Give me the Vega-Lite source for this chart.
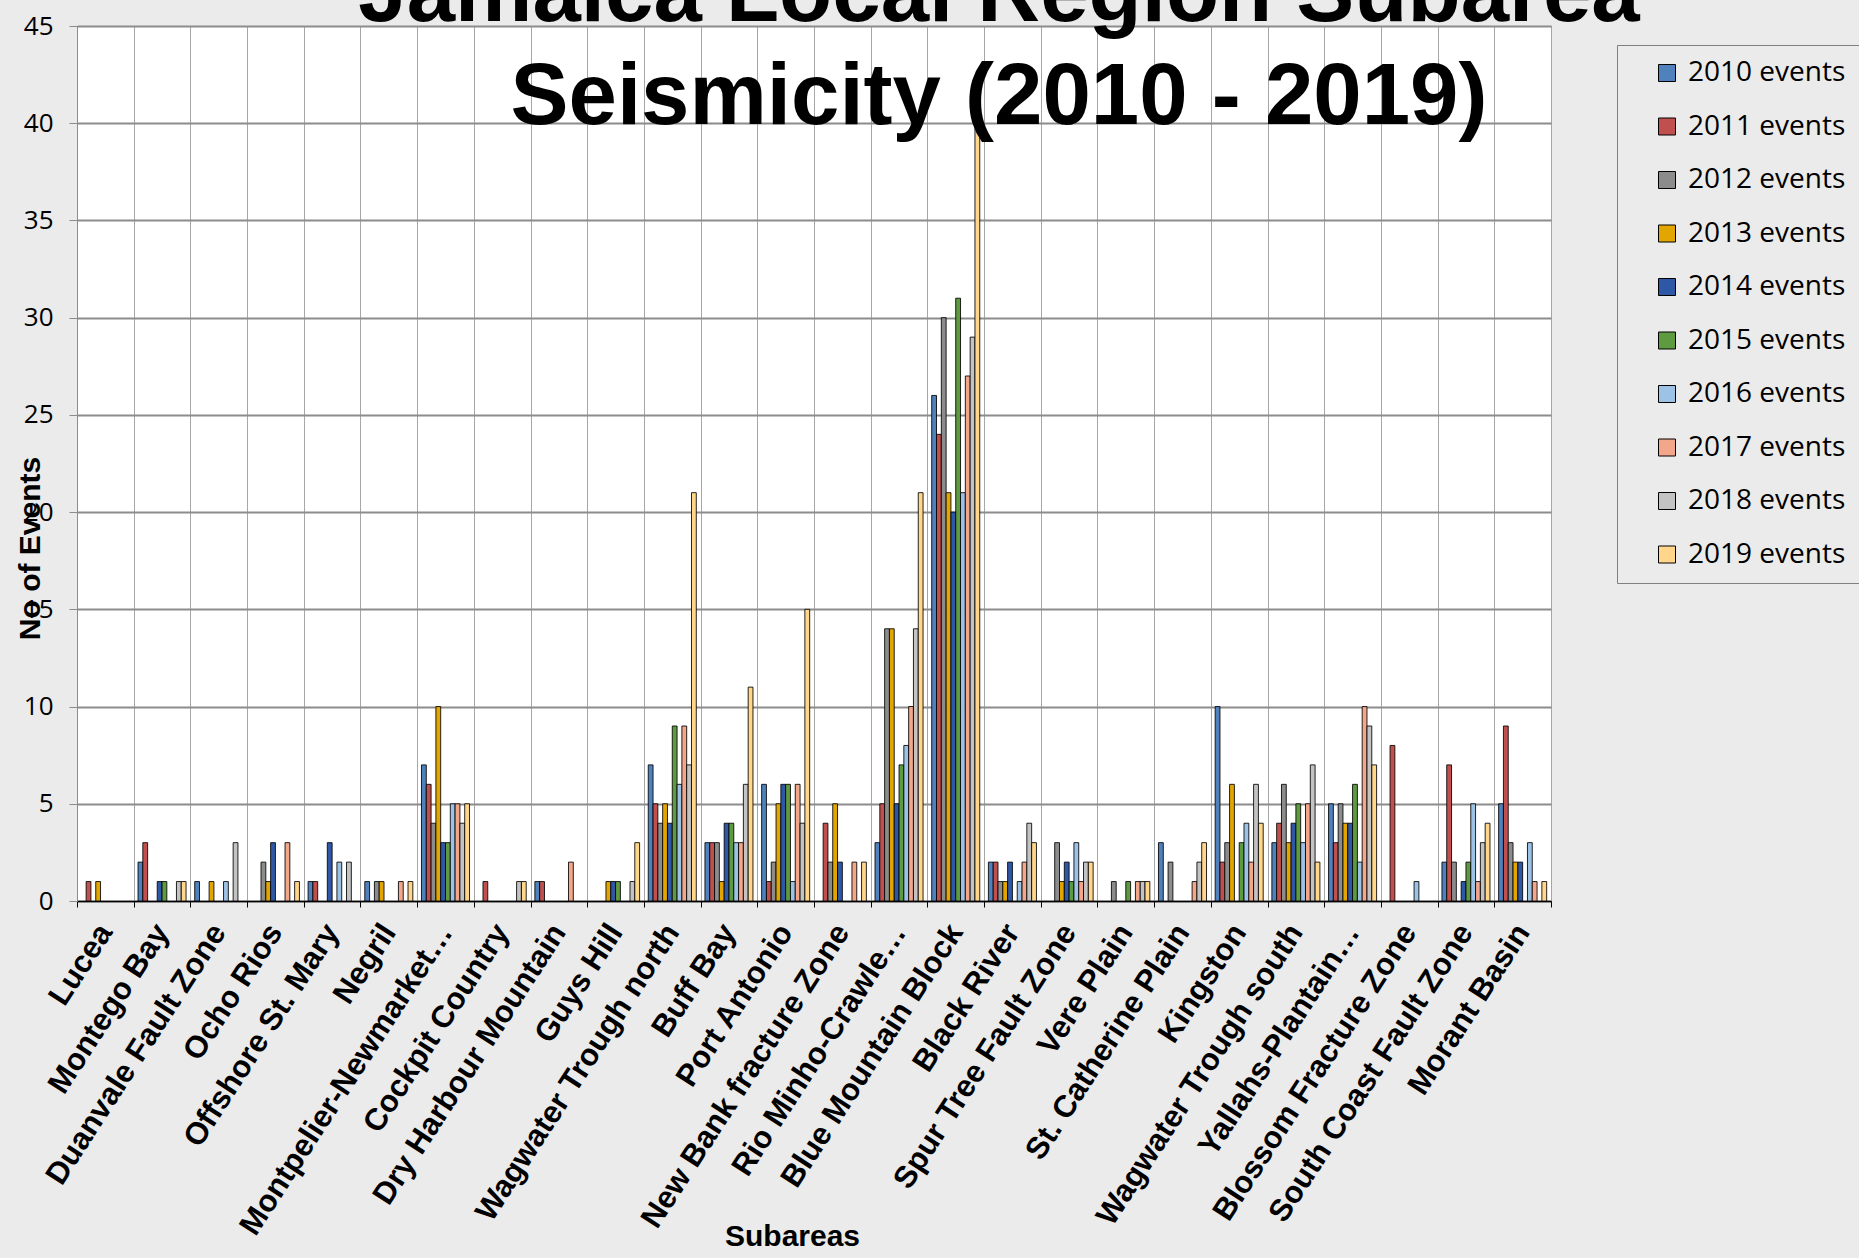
{
  "$schema": "https://vega.github.io/schema/vega-lite/v6.json",
  "autosize": "none",
  "padding": {"left": 77, "top": 26, "right": 308, "bottom": 357},
  "width": 1474,
  "height": 875,
  "background": "#ebebeb",
  "title": {
    "text": ["Jamaica Local Region Subarea", "Seismicity (2010 - 2019)"],
    "font": "Liberation Sans",
    "fontSize": 87,
    "fontWeight": "bold",
    "color": "black",
    "lineHeight": 103,
    "anchor": "middle",
    "frame": "group",
    "baseline": "alphabetic",
    "offset": 0,
    "dx": 185,
    "dy": 198
  },
  "config": {
    "view": {"fill": "white", "stroke": "#8c8c8c", "strokeWidth": 1}
  },
  "data": {
    "values": [
      {"area": "Lucea", "year": "2011 events", "n": 1},
      {"area": "Lucea", "year": "2013 events", "n": 1},
      {"area": "Montego Bay", "year": "2010 events", "n": 2},
      {"area": "Montego Bay", "year": "2011 events", "n": 3},
      {"area": "Montego Bay", "year": "2014 events", "n": 1},
      {"area": "Montego Bay", "year": "2015 events", "n": 1},
      {"area": "Montego Bay", "year": "2018 events", "n": 1},
      {"area": "Montego Bay", "year": "2019 events", "n": 1},
      {"area": "Duanvale Fault Zone", "year": "2010 events", "n": 1},
      {"area": "Duanvale Fault Zone", "year": "2013 events", "n": 1},
      {"area": "Duanvale Fault Zone", "year": "2016 events", "n": 1},
      {"area": "Duanvale Fault Zone", "year": "2018 events", "n": 3},
      {"area": "Ocho Rios", "year": "2012 events", "n": 2},
      {"area": "Ocho Rios", "year": "2013 events", "n": 1},
      {"area": "Ocho Rios", "year": "2014 events", "n": 3},
      {"area": "Ocho Rios", "year": "2017 events", "n": 3},
      {"area": "Ocho Rios", "year": "2019 events", "n": 1},
      {"area": "Offshore St. Mary", "year": "2010 events", "n": 1},
      {"area": "Offshore St. Mary", "year": "2011 events", "n": 1},
      {"area": "Offshore St. Mary", "year": "2014 events", "n": 3},
      {"area": "Offshore St. Mary", "year": "2016 events", "n": 2},
      {"area": "Offshore St. Mary", "year": "2018 events", "n": 2},
      {"area": "Negril", "year": "2010 events", "n": 1},
      {"area": "Negril", "year": "2012 events", "n": 1},
      {"area": "Negril", "year": "2013 events", "n": 1},
      {"area": "Negril", "year": "2017 events", "n": 1},
      {"area": "Negril", "year": "2019 events", "n": 1},
      {"area": "Montpelier-Newmarket…", "year": "2010 events", "n": 7},
      {"area": "Montpelier-Newmarket…", "year": "2011 events", "n": 6},
      {"area": "Montpelier-Newmarket…", "year": "2012 events", "n": 4},
      {"area": "Montpelier-Newmarket…", "year": "2013 events", "n": 10},
      {"area": "Montpelier-Newmarket…", "year": "2014 events", "n": 3},
      {"area": "Montpelier-Newmarket…", "year": "2015 events", "n": 3},
      {"area": "Montpelier-Newmarket…", "year": "2016 events", "n": 5},
      {"area": "Montpelier-Newmarket…", "year": "2017 events", "n": 5},
      {"area": "Montpelier-Newmarket…", "year": "2018 events", "n": 4},
      {"area": "Montpelier-Newmarket…", "year": "2019 events", "n": 5},
      {"area": "Cockpit Country", "year": "2011 events", "n": 1},
      {"area": "Cockpit Country", "year": "2018 events", "n": 1},
      {"area": "Cockpit Country", "year": "2019 events", "n": 1},
      {"area": "Dry Harbour Mountain", "year": "2010 events", "n": 1},
      {"area": "Dry Harbour Mountain", "year": "2011 events", "n": 1},
      {"area": "Dry Harbour Mountain", "year": "2017 events", "n": 2},
      {"area": "Guys Hill", "year": "2013 events", "n": 1},
      {"area": "Guys Hill", "year": "2014 events", "n": 1},
      {"area": "Guys Hill", "year": "2015 events", "n": 1},
      {"area": "Guys Hill", "year": "2018 events", "n": 1},
      {"area": "Guys Hill", "year": "2019 events", "n": 3},
      {"area": "Wagwater Trough north", "year": "2010 events", "n": 7},
      {"area": "Wagwater Trough north", "year": "2011 events", "n": 5},
      {"area": "Wagwater Trough north", "year": "2012 events", "n": 4},
      {"area": "Wagwater Trough north", "year": "2013 events", "n": 5},
      {"area": "Wagwater Trough north", "year": "2014 events", "n": 4},
      {"area": "Wagwater Trough north", "year": "2015 events", "n": 9},
      {"area": "Wagwater Trough north", "year": "2016 events", "n": 6},
      {"area": "Wagwater Trough north", "year": "2017 events", "n": 9},
      {"area": "Wagwater Trough north", "year": "2018 events", "n": 7},
      {"area": "Wagwater Trough north", "year": "2019 events", "n": 21},
      {"area": "Buff Bay", "year": "2010 events", "n": 3},
      {"area": "Buff Bay", "year": "2011 events", "n": 3},
      {"area": "Buff Bay", "year": "2012 events", "n": 3},
      {"area": "Buff Bay", "year": "2013 events", "n": 1},
      {"area": "Buff Bay", "year": "2014 events", "n": 4},
      {"area": "Buff Bay", "year": "2015 events", "n": 4},
      {"area": "Buff Bay", "year": "2016 events", "n": 3},
      {"area": "Buff Bay", "year": "2017 events", "n": 3},
      {"area": "Buff Bay", "year": "2018 events", "n": 6},
      {"area": "Buff Bay", "year": "2019 events", "n": 11},
      {"area": "Port Antonio", "year": "2010 events", "n": 6},
      {"area": "Port Antonio", "year": "2011 events", "n": 1},
      {"area": "Port Antonio", "year": "2012 events", "n": 2},
      {"area": "Port Antonio", "year": "2013 events", "n": 5},
      {"area": "Port Antonio", "year": "2014 events", "n": 6},
      {"area": "Port Antonio", "year": "2015 events", "n": 6},
      {"area": "Port Antonio", "year": "2016 events", "n": 1},
      {"area": "Port Antonio", "year": "2017 events", "n": 6},
      {"area": "Port Antonio", "year": "2018 events", "n": 4},
      {"area": "Port Antonio", "year": "2019 events", "n": 15},
      {"area": "New Bank fracture Zone", "year": "2011 events", "n": 4},
      {"area": "New Bank fracture Zone", "year": "2012 events", "n": 2},
      {"area": "New Bank fracture Zone", "year": "2013 events", "n": 5},
      {"area": "New Bank fracture Zone", "year": "2014 events", "n": 2},
      {"area": "New Bank fracture Zone", "year": "2017 events", "n": 2},
      {"area": "New Bank fracture Zone", "year": "2019 events", "n": 2},
      {"area": "Rio Minho-Crawle…", "year": "2010 events", "n": 3},
      {"area": "Rio Minho-Crawle…", "year": "2011 events", "n": 5},
      {"area": "Rio Minho-Crawle…", "year": "2012 events", "n": 14},
      {"area": "Rio Minho-Crawle…", "year": "2013 events", "n": 14},
      {"area": "Rio Minho-Crawle…", "year": "2014 events", "n": 5},
      {"area": "Rio Minho-Crawle…", "year": "2015 events", "n": 7},
      {"area": "Rio Minho-Crawle…", "year": "2016 events", "n": 8},
      {"area": "Rio Minho-Crawle…", "year": "2017 events", "n": 10},
      {"area": "Rio Minho-Crawle…", "year": "2018 events", "n": 14},
      {"area": "Rio Minho-Crawle…", "year": "2019 events", "n": 21},
      {"area": "Blue Mountain Block", "year": "2010 events", "n": 26},
      {"area": "Blue Mountain Block", "year": "2011 events", "n": 24},
      {"area": "Blue Mountain Block", "year": "2012 events", "n": 30},
      {"area": "Blue Mountain Block", "year": "2013 events", "n": 21},
      {"area": "Blue Mountain Block", "year": "2014 events", "n": 20},
      {"area": "Blue Mountain Block", "year": "2015 events", "n": 31},
      {"area": "Blue Mountain Block", "year": "2016 events", "n": 21},
      {"area": "Blue Mountain Block", "year": "2017 events", "n": 27},
      {"area": "Blue Mountain Block", "year": "2018 events", "n": 29},
      {"area": "Blue Mountain Block", "year": "2019 events", "n": 40},
      {"area": "Black River", "year": "2010 events", "n": 2},
      {"area": "Black River", "year": "2011 events", "n": 2},
      {"area": "Black River", "year": "2012 events", "n": 1},
      {"area": "Black River", "year": "2013 events", "n": 1},
      {"area": "Black River", "year": "2014 events", "n": 2},
      {"area": "Black River", "year": "2016 events", "n": 1},
      {"area": "Black River", "year": "2017 events", "n": 2},
      {"area": "Black River", "year": "2018 events", "n": 4},
      {"area": "Black River", "year": "2019 events", "n": 3},
      {"area": "Spur Tree Fault Zone", "year": "2012 events", "n": 3},
      {"area": "Spur Tree Fault Zone", "year": "2013 events", "n": 1},
      {"area": "Spur Tree Fault Zone", "year": "2014 events", "n": 2},
      {"area": "Spur Tree Fault Zone", "year": "2015 events", "n": 1},
      {"area": "Spur Tree Fault Zone", "year": "2016 events", "n": 3},
      {"area": "Spur Tree Fault Zone", "year": "2017 events", "n": 1},
      {"area": "Spur Tree Fault Zone", "year": "2018 events", "n": 2},
      {"area": "Spur Tree Fault Zone", "year": "2019 events", "n": 2},
      {"area": "Vere Plain", "year": "2012 events", "n": 1},
      {"area": "Vere Plain", "year": "2015 events", "n": 1},
      {"area": "Vere Plain", "year": "2017 events", "n": 1},
      {"area": "Vere Plain", "year": "2018 events", "n": 1},
      {"area": "Vere Plain", "year": "2019 events", "n": 1},
      {"area": "St. Catherine Plain", "year": "2010 events", "n": 3},
      {"area": "St. Catherine Plain", "year": "2012 events", "n": 2},
      {"area": "St. Catherine Plain", "year": "2017 events", "n": 1},
      {"area": "St. Catherine Plain", "year": "2018 events", "n": 2},
      {"area": "St. Catherine Plain", "year": "2019 events", "n": 3},
      {"area": "Kingston", "year": "2010 events", "n": 10},
      {"area": "Kingston", "year": "2011 events", "n": 2},
      {"area": "Kingston", "year": "2012 events", "n": 3},
      {"area": "Kingston", "year": "2013 events", "n": 6},
      {"area": "Kingston", "year": "2015 events", "n": 3},
      {"area": "Kingston", "year": "2016 events", "n": 4},
      {"area": "Kingston", "year": "2017 events", "n": 2},
      {"area": "Kingston", "year": "2018 events", "n": 6},
      {"area": "Kingston", "year": "2019 events", "n": 4},
      {"area": "Wagwater Trough south", "year": "2010 events", "n": 3},
      {"area": "Wagwater Trough south", "year": "2011 events", "n": 4},
      {"area": "Wagwater Trough south", "year": "2012 events", "n": 6},
      {"area": "Wagwater Trough south", "year": "2013 events", "n": 3},
      {"area": "Wagwater Trough south", "year": "2014 events", "n": 4},
      {"area": "Wagwater Trough south", "year": "2015 events", "n": 5},
      {"area": "Wagwater Trough south", "year": "2016 events", "n": 3},
      {"area": "Wagwater Trough south", "year": "2017 events", "n": 5},
      {"area": "Wagwater Trough south", "year": "2018 events", "n": 7},
      {"area": "Wagwater Trough south", "year": "2019 events", "n": 2},
      {"area": "Yallahs-Plantain…", "year": "2010 events", "n": 5},
      {"area": "Yallahs-Plantain…", "year": "2011 events", "n": 3},
      {"area": "Yallahs-Plantain…", "year": "2012 events", "n": 5},
      {"area": "Yallahs-Plantain…", "year": "2013 events", "n": 4},
      {"area": "Yallahs-Plantain…", "year": "2014 events", "n": 4},
      {"area": "Yallahs-Plantain…", "year": "2015 events", "n": 6},
      {"area": "Yallahs-Plantain…", "year": "2016 events", "n": 2},
      {"area": "Yallahs-Plantain…", "year": "2017 events", "n": 10},
      {"area": "Yallahs-Plantain…", "year": "2018 events", "n": 9},
      {"area": "Yallahs-Plantain…", "year": "2019 events", "n": 7},
      {"area": "Blossom Fracture Zone", "year": "2011 events", "n": 8},
      {"area": "Blossom Fracture Zone", "year": "2016 events", "n": 1},
      {"area": "South Coast Fault Zone", "year": "2010 events", "n": 2},
      {"area": "South Coast Fault Zone", "year": "2011 events", "n": 7},
      {"area": "South Coast Fault Zone", "year": "2012 events", "n": 2},
      {"area": "South Coast Fault Zone", "year": "2014 events", "n": 1},
      {"area": "South Coast Fault Zone", "year": "2015 events", "n": 2},
      {"area": "South Coast Fault Zone", "year": "2016 events", "n": 5},
      {"area": "South Coast Fault Zone", "year": "2017 events", "n": 1},
      {"area": "South Coast Fault Zone", "year": "2018 events", "n": 3},
      {"area": "South Coast Fault Zone", "year": "2019 events", "n": 4},
      {"area": "Morant Basin", "year": "2010 events", "n": 5},
      {"area": "Morant Basin", "year": "2011 events", "n": 9},
      {"area": "Morant Basin", "year": "2012 events", "n": 3},
      {"area": "Morant Basin", "year": "2013 events", "n": 2},
      {"area": "Morant Basin", "year": "2014 events", "n": 2},
      {"area": "Morant Basin", "year": "2016 events", "n": 3},
      {"area": "Morant Basin", "year": "2017 events", "n": 1},
      {"area": "Morant Basin", "year": "2019 events", "n": 1}
    ]
  },
  "mark": {"type": "bar", "stroke": "#000000", "strokeWidth": 1, "strokeOpacity": 0.85},
  "encoding": {
    "x": {
      "field": "area",
      "type": "nominal",
      "sort": null,
      "scale": {
        "domain": ["Lucea", "Montego Bay", "Duanvale Fault Zone", "Ocho Rios", "Offshore St. Mary", "Negril", "Montpelier-Newmarket…", "Cockpit Country", "Dry Harbour Mountain", "Guys Hill", "Wagwater Trough north", "Buff Bay", "Port Antonio", "New Bank fracture Zone", "Rio Minho-Crawle…", "Blue Mountain Block", "Black River", "Spur Tree Fault Zone", "Vere Plain", "St. Catherine Plain", "Kingston", "Wagwater Trough south", "Yallahs-Plantain…", "Blossom Fracture Zone", "South Coast Fault Zone", "Morant Basin"],
        "paddingInner": 0,
        "paddingOuter": 0
      },
      "axis": {
        "title": "Subareas",
        "titleFont": "Liberation Sans",
        "titleFontSize": 30,
        "titleFontWeight": "bold",
        "titleColor": "black",
        "titleX": 715,
        "titleY": 344,
        "titleAlign": "center",
        "titleBaseline": "alphabetic",
        "labelAngle": -57,
        "labelFont": "Liberation Sans",
        "labelFontSize": 31,
        "labelFontWeight": "bold",
        "labelColor": "black",
        "labelPadding": 20,
        "labelLimit": 500,
        "labelOverlap": false,
        "grid": true,
        "tickBand": "extent",
        "gridColor": "#a6a6a6",
        "gridWidth": 1,
        "domainColor": "#000000",
        "domainWidth": 1.5,
        "ticks": true,
        "tickSize": 6,
        "tickColor": "#000000"
      }
    },
    "xOffset": {
      "field": "year",
      "type": "nominal",
      "scale": {
        "domain": ["2010 events", "2011 events", "2012 events", "2013 events", "2014 events", "2015 events", "2016 events", "2017 events", "2018 events", "2019 events"],
        "paddingInner": 0,
        "paddingOuter": 0.9
      }
    },
    "y": {
      "field": "n",
      "type": "quantitative",
      "scale": {"domain": [0, 45], "nice": false},
      "axis": {
        "values": [0, 5, 10, 15, 20, 25, 30, 35, 40, 45],
        "title": "No of Events",
        "titleFont": "Liberation Sans",
        "titleFontSize": 30,
        "titleFontWeight": "bold",
        "titleColor": "black",
        "titleAngle": -90,
        "titleX": -47,
        "titleY": 522,
        "titleAlign": "center",
        "titleBaseline": "middle",
        "labelFont": "Open Sans",
        "labelFontSize": 26,
        "labelColor": "black",
        "labelPadding": 16,
        "grid": true,
        "gridColor": "#8c8c8c",
        "gridWidth": 2,
        "domainColor": "#8c8c8c",
        "tickColor": "#8c8c8c",
        "tickSize": 8
      }
    },
    "color": {
      "field": "year",
      "type": "nominal",
      "scale": {
        "domain": ["2010 events", "2011 events", "2012 events", "2013 events", "2014 events", "2015 events", "2016 events", "2017 events", "2018 events", "2019 events"],
        "range": ["#4F81BD", "#C0504D", "#8C8C8C", "#E3A600", "#2E58A6", "#5E9B40", "#9CC2E5", "#F2A68A", "#C3C3C3", "#FFD68A"]
      },
      "legend": {
        "orient": "none",
        "legendX": 1540,
        "legendY": 19,
        "title": null,
        "labelFont": "Open Sans",
        "labelFontSize": 28,
        "labelColor": "black",
        "labelOffset": 7,
        "labelLimit": 400,
        "symbolType": "square",
        "symbolSize": 289,
        "symbolStrokeColor": "#000000",
        "symbolStrokeWidth": 1,
        "symbolOffset": 22,
        "padding": 14,
        "rowPadding": 25.5,
        "strokeColor": "#808080",
        "fillColor": "#ebebeb"
      }
    }
  }
}
